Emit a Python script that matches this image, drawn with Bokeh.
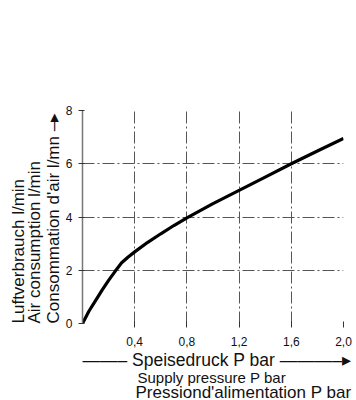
from bokeh.plotting import figure
from bokeh.models import Range1d, FixedTicker, Title
from bokeh.embed import file_html
from bokeh.resources import INLINE

# ---- data ----
pressure_bar = [0, 0.05, 0.1, 0.15, 0.2, 0.25, 0.3, 0.35, 0.4, 0.5, 0.6, 0.7, 0.8,
                1.0, 1.2, 1.4, 1.6, 1.8, 2.0]
air_l_min = [0, 0.47, 0.86, 1.25, 1.62, 1.96, 2.28, 2.5, 2.69, 3.05, 3.37, 3.68, 3.97,
             4.5, 5.0, 5.5, 6.0, 6.48, 6.95]
x_ticks = [0.4, 0.8, 1.2, 1.6, 2.0]
x_tick_labels = ["0,4", "0,8", "1,2", "1,6", "2,0"]
y_ticks = [0, 2, 4, 6, 8]
y_tick_labels = ["0", "2", "4", "6", "8"]
y_title_lines = ["Luftverbrauch l/min", "Air consumption l/min",
                 "Consommation d'air l/mn \u2013\u25B8"]
x_title_lines = ["\u2014\u2014\u2013 Speisedruck P bar \u2014\u2014\u2014\u2013\u25B8",
                 "Supply pressure P bar", "Pressiond'alimentation P bar"]

FONT = "Liberation Sans"
INK = "#111111"
GRID = "#555555"

FL, FR, FT, FB = 82, 343, 110, 323
W, H = 356, 400

p = figure(width=W, height=H, output_backend="svg", toolbar_location=None,
           x_range=Range1d(0, 2.0), y_range=Range1d(0, 8),
           min_border_left=FL, min_border_right=W - FR,
           min_border_top=FT, min_border_bottom=H - FB)
p.outline_line_color = None
p.background_fill_color = "white"
p.border_fill_color = "white"

# axes
p.xaxis.ticker = FixedTicker(ticks=x_ticks)
p.xaxis.major_label_overrides = dict(zip(x_ticks, x_tick_labels))
p.yaxis.ticker = FixedTicker(ticks=y_ticks)
p.yaxis.major_label_overrides = dict(zip(y_ticks, y_tick_labels))
for ax in (p.xaxis, p.yaxis):
    ax.minor_tick_line_color = None
    ax.major_label_text_font = FONT
    ax.major_label_text_font_size = "12px"
    ax.major_label_text_color = INK
    ax.major_tick_line_color = "#333333"
    ax.major_tick_out = 4
    ax.major_tick_in = 2
p.xaxis.axis_line_color = None
p.xaxis.major_label_standoff = 9
p.yaxis.axis_line_color = "#777777"
p.yaxis.axis_line_width = 1.5
p.yaxis.major_label_standoff = 6

p.xgrid.ticker = FixedTicker(ticks=x_ticks)
p.ygrid.ticker = FixedTicker(ticks=y_ticks)
for g in (p.xgrid, p.ygrid):
    g.grid_line_color = GRID
    g.grid_line_width = 1
    g.grid_line_dash = "12 3 2 3"

# curve
p.line(pressure_bar, air_l_min, line_color="black", line_width=3.2)

def title(txt, size, place, standoff=0, offset=0):
    p.add_layout(Title(text=txt, align="left", offset=offset, standoff=standoff,
                       text_font=FONT, text_font_size=size,
                       text_font_style="normal", text_color=INK), place)

# y titles: nearest to the frame first
title(y_title_lines[2], "17px", "left", standoff=0)
title(y_title_lines[1], "17px", "left", standoff=-5)
title(y_title_lines[0], "17px", "left", standoff=-5)

# x titles
title(x_title_lines[0], "17.5px", "below", standoff=-1, offset=0)
title(x_title_lines[1], "15px", "below", standoff=-6, offset=55)
title(x_title_lines[2], "17px", "below", standoff=-4, offset=53)

open("out.html", "w").write(file_html(p, INLINE))
